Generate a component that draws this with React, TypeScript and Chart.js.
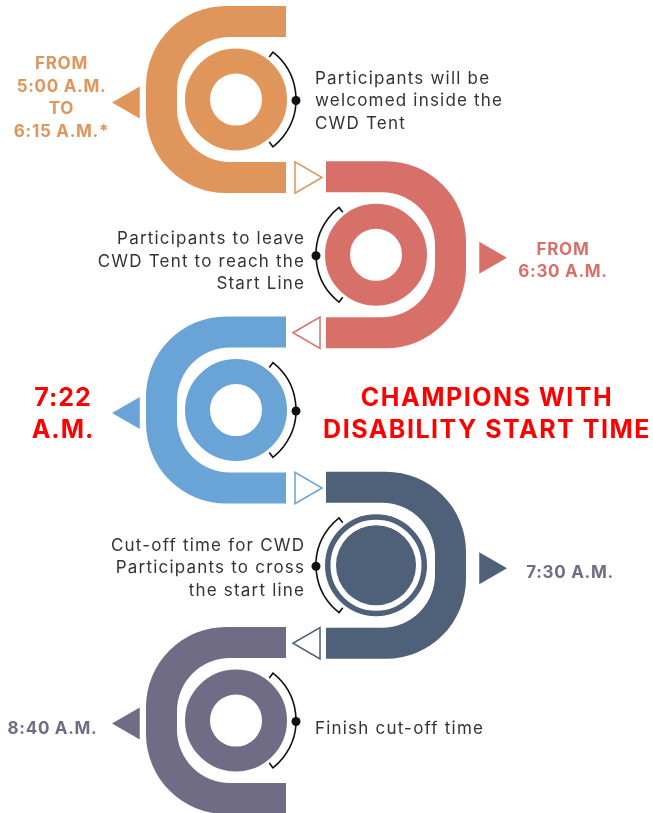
import React, { useEffect, useRef } from 'react';
import { Chart, registerables } from 'chart.js';

Chart.register(...registerables);

// ---------------- data ----------------
const steps = ['Welcome', 'Leave tent', 'Start', 'Start cut-off', 'Finish'];
const timeLines: string[][] = [
  ['FROM', '5:00 A.M.', 'TO', '6:15 A.M.*'],
  ['FROM', '6:30 A.M.'],
  ['7:22', 'A.M.'],
  ['7:30 A.M.'],
  ['8:40 A.M.'],
];
const descLines: string[][] = [
  ['Participants will be', 'welcomed inside the', 'CWD Tent'],
  ['Participants to leave', 'CWD Tent to reach the', 'Start Line'],
  [],
  ['Cut-off time for CWD', 'Participants to cross', 'the start line'],
  ['Finish cut-off time'],
];
const headlineLines = ['CHAMPIONS WITH', 'DISABILITY START TIME'];
const headlineStep = 2;
const openings = ['right', 'left', 'right', 'left', 'right'];
const ringKinds = ['donut', 'donut', 'donut', 'target', 'donut'];

// ---------------- styles ----------------
const stepColors = ['#E0955A', '#D8706A', '#6AA4D6', '#4F6079', '#716C86'];
const timeColors = ['#E0955A', '#D8706A', '#FF0000', '#716C86', '#716C86'];
const timeBig = [false, false, true, false, false];
const descColor = '#333333';
const headlineColor = '#FF0000';

// ---------------- layout ----------------
const W = 653;
const H = 813;
const STEP_PX = 155.25;
const FIRST_Y = 99.5;
const CX_LEFT = 236;
const CX_RIGHT = 376;
const POINTER_TIP_LEFT = 112;
const POINTER_TIP_RIGHT = 507;
const POINTER_R = 18.5;
const CONN_R = 18;
const TEXT_NUDGE = 1.5;
const timeAnchorX = [61.5, 563, 63, 570, 52.5];
const timeShift = [-3, 4.5, 3, 6, 6.5];
const descShift = [0, 5.5, 0, 1.5, 6.5];
const DESC_X_LEFT = 315;
const DESC_X_RIGHT = 304;
const FONT_FAMILY = 'Inter, "Open Sans", sans-serif';

const dirOf = (i: number) => (openings[i] === 'right' ? 1 : -1);
const cxOf = (i: number) => (dirOf(i) === 1 ? CX_LEFT : CX_RIGHT);

export default function App() {
  const ref = useRef<HTMLCanvasElement>(null);

  useEffect(() => {
    document.body.style.margin = '0';
    const canvas = ref.current!;

    const ringData = steps.map((_, i) => ({ x: cxOf(i), y: i }));
    const targetIdx = steps.map((_, i) => i).filter((i) => ringKinds[i] === 'target');
    const discData = targetIdx.map((i) => ({ x: cxOf(i), y: i }));
    const discColors = targetIdx.map((i) => stepColors[i]);
    const pointerData = steps.map((_, i) => ({
      x: dirOf(i) === 1 ? POINTER_TIP_LEFT + POINTER_R : POINTER_TIP_RIGHT - POINTER_R,
      y: i + 3 / STEP_PX,
    }));
    const connData = steps.slice(0, -1).map((_, i) => ({
      x: dirOf(i) === 1 ? 322 - CONN_R : 293 + CONN_R,
      y: i + 78 / STEP_PX,
    }));
    const dotData = steps.map((_, i) => ({ x: cxOf(i) + dirOf(i) * 60, y: i + 1 / STEP_PX }));

    const cShapes = {
      id: 'cShapes',
      beforeDatasetsDraw(chart: any) {
        const ctx = chart.ctx;
        const ys = chart.scales.y;
        const xs = chart.scales.x;
        steps.forEach((_, i) => {
          const d = dirOf(i);
          const cx = xs.getPixelForValue(cxOf(i));
          const cy = ys.getPixelForValue(i);
          const X = (o: number) => cx + d * o;
          const L = X(-90), A = X(50), T = cy - 93.5, B = cy + 93.5;
          const Li = X(-59), Ti = cy - 62.5, Bi = cy + 62.5;
          const Ro = 80, Ri = 53;
          ctx.save();
          ctx.beginPath();
          ctx.moveTo(A, T);
          ctx.arcTo(L, T, L, B, Ro);
          ctx.arcTo(L, B, A, B, Ro);
          ctx.lineTo(A, B);
          ctx.lineTo(A, Bi);
          ctx.arcTo(Li, Bi, Li, Ti, Ri);
          ctx.arcTo(Li, Ti, A, Ti, Ri);
          ctx.lineTo(A, Ti);
          ctx.closePath();
          ctx.fillStyle = stepColors[i];
          ctx.fill();
          ctx.restore();
        });
      },
      afterDatasetsDraw(chart: any) {
        const ctx = chart.ctx;
        const ys = chart.scales.y;
        const xs = chart.scales.x;
        steps.forEach((_, i) => {
          const d = dirOf(i);
          const cx = xs.getPixelForValue(cxOf(i));
          const cy = ys.getPixelForValue(i);
          const base = d === 1 ? 0 : Math.PI;
          const span = (52 * Math.PI) / 180;
          const a0 = base - span, a1 = base + span;
          ctx.save();
          ctx.strokeStyle = '#111';
          ctx.lineWidth = 1.6;
          ctx.beginPath();
          ctx.moveTo(cx + 54 * Math.cos(a0), cy + 54 * Math.sin(a0));
          ctx.lineTo(cx + 60 * Math.cos(a0), cy + 60 * Math.sin(a0));
          ctx.arc(cx, cy, 60, a0, a1);
          ctx.lineTo(cx + 54 * Math.cos(a1), cy + 54 * Math.sin(a1));
          ctx.stroke();
          ctx.restore();
        });
      },
      afterDraw(chart: any) {
        const ctx = chart.ctx;
        const ys = chart.scales.y;
        ctx.save();
        ctx.textBaseline = 'middle';
        steps.forEach((_, i) => {
          const cy = ys.getPixelForValue(i) + TEXT_NUDGE;
          const big = timeBig[i];
          const lines = timeLines[i];
          const lh = big ? 32 : 22.5;
          ctx.font = big ? `700 25px ${FONT_FAMILY}` : `700 17px ${FONT_FAMILY}`;
          (ctx as any).letterSpacing = big ? '1px' : '0.7px';
          ctx.fillStyle = timeColors[i];
          ctx.textAlign = 'center';
          const t0 = cy + timeShift[i] - ((lines.length - 1) * lh) / 2;
          lines.forEach((s, k) => ctx.fillText(s, timeAnchorX[i], t0 + k * lh));
          const dl = descLines[i];
          if (dl.length) {
            ctx.font = `400 17px ${FONT_FAMILY}`;
            (ctx as any).letterSpacing = '1.2px';
            ctx.fillStyle = descColor;
            const d = dirOf(i);
            ctx.textAlign = d === 1 ? 'left' : 'right';
            const x = d === 1 ? DESC_X_LEFT : DESC_X_RIGHT + 1.2;
            const dh = 22.5;
            const d0 = cy + descShift[i] - ((dl.length - 1) * dh) / 2;
            dl.forEach((s, k) => ctx.fillText(s, x, d0 + k * dh));
          }
        });
        const hy = ys.getPixelForValue(headlineStep) + 3 + TEXT_NUDGE;
        ctx.font = `700 25px ${FONT_FAMILY}`;
        (ctx as any).letterSpacing = '1.5px';
        ctx.fillStyle = headlineColor;
        ctx.textAlign = 'center';
        headlineLines.forEach((s, k) => ctx.fillText(s, 487, hy - 16 + k * 32));
        ctx.restore();
      },
    };

    const chart = new Chart(canvas, {
      type: 'scatter',
      data: {
        datasets: [
          {
            label: 'dots',
            data: dotData,
            pointStyle: 'circle',
            pointRadius: 4.5,
            backgroundColor: '#111',
            borderWidth: 0,
            order: 0,
          },
          {
            label: 'discs',
            data: discData,
            pointStyle: 'circle',
            pointRadius: 40,
            backgroundColor: discColors,
            borderWidth: 0,
            order: 1,
          },
          {
            label: 'rings',
            data: ringData,
            pointStyle: 'circle',
            pointRadius: (c: any) => (ringKinds[c.dataIndex] === 'target' ? 48.25 : 38.5),
            borderWidth: (c: any) => (ringKinds[c.dataIndex] === 'target' ? 5.5 : 25),
            borderColor: stepColors,
            backgroundColor: 'rgba(0,0,0,0)',
            order: 2,
          },
          {
            label: 'pointers',
            data: pointerData,
            pointStyle: 'triangle',
            pointRadius: POINTER_R,
            rotation: (c: any) => (dirOf(c.dataIndex) === 1 ? -90 : 90),
            backgroundColor: stepColors,
            borderWidth: 0,
            order: 3,
          },
          {
            label: 'connectors',
            data: connData,
            pointStyle: 'triangle',
            pointRadius: CONN_R,
            rotation: (c: any) => (dirOf(c.dataIndex) === 1 ? 90 : -90),
            backgroundColor: '#ffffff',
            borderColor: stepColors.slice(0, -1),
            borderWidth: 1.5,
            order: 4,
          },
        ] as any,
      },
      options: {
        animation: false,
        responsive: true,
        maintainAspectRatio: false,
        events: [],
        layout: { padding: 0, autoPadding: false },
        plugins: { legend: { display: false }, tooltip: { enabled: false } },
        elements: { point: { hoverRadius: 0 } },
        scales: {
          x: { type: 'linear', display: false, min: 0, max: W },
          y: {
            type: 'linear',
            display: false,
            reverse: true,
            min: -FIRST_Y / STEP_PX,
            max: (H - FIRST_Y) / STEP_PX,
          },
        },
        datasets: { scatter: { clip: false } as any },
      } as any,
      plugins: [cShapes],
    });
    return () => chart.destroy();
  }, []);

  return (
    <div style={{ width: W, height: H, position: 'relative', overflow: 'hidden' }}>
      <canvas ref={ref} />
    </div>
  );
}
